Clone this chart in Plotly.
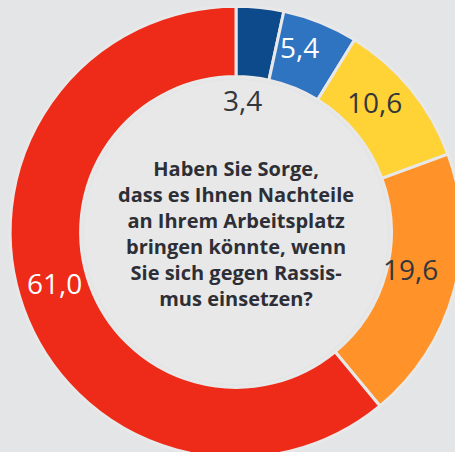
import math
import plotly.graph_objects as go

# ── Data ──────────────────────────────────────────────
labels = ["Ja, große Sorge", "Ja, etwas Sorge", "Eher nicht", "Nein, kaum", "Nein, gar nicht"]
values = [3.4, 5.4, 10.6, 19.6, 61.0]
colors = ["#0c4a8c", "#2f74c0", "#ffd236", "#ff932a", "#ee2a18"]
text_colors = ["#33373c", "#ffffff", "#33373c", "#33373c", "#ffffff"]
question = ("Haben Sie Sorge,<br>dass es Ihnen Nachteile<br>an Ihrem Arbeitsplatz<br>"
            "bringen könnte, wenn<br>Sie sich gegen Rassis-<br>mus einsetzen?")

# the ring runs past the right/bottom edge of the visible 455x452 area,
# so the figure is drawn a bit larger and the page crops it
W, H = 475, 470
BG = "#e3e5e7"
HOLE_BG = "#e8e8e8"

# pie geometry in pixels
cx, cy, r_out = 236, 232, 221
hole = 0.688
r_in = r_out * hole
r_dom = r_out * 1.022  # plotly draws the pie slightly inside its domain box

fmt = lambda v: f"{v:.1f}".replace(".", ",")

fig = go.Figure()
fig.add_trace(go.Pie(
    labels=labels,
    values=values,
    sort=False,
    direction="clockwise",
    rotation=0,
    hole=hole,
    marker=dict(colors=colors, line=dict(color=HOLE_BG, width=3)),
    textinfo="none",
    hoverinfo="label+value",
    domain=dict(x=[(cx - r_dom) / W, (cx + r_dom) / W],
                y=[1 - (cy + r_dom) / H, 1 - (cy - r_dom) / H]),
    showlegend=False,
))

# value labels at each slice's mid angle; the tiny first slice gets its label in the hole
total = sum(values)
start = 0.0
for i, v in enumerate(values):
    mid = (start + v / 2) / total * 2 * math.pi
    start += v
    rad = r_in - 31 if i == 0 else (r_in + r_out) / 2
    fig.add_annotation(
        x=(cx + rad * math.sin(mid)) / W,
        y=1 - (cy - rad * math.cos(mid)) / H,
        xref="paper", yref="paper", showarrow=False,
        xanchor="center", yanchor="middle",
        xshift=-6, yshift=12,
        text=fmt(v),
        font=dict(family="Open Sans", size=28, color=text_colors[i]),
    )

# question in the centre
fig.add_annotation(
    x=cx / W, y=1 - 234 / H, xref="paper", yref="paper", showarrow=False,
    xanchor="center", yanchor="middle",
    text=f"<b>{question}</b>",
    align="center",
    font=dict(family="Open Sans", size=20, color="#2e2f36"),
)

# lighter disc behind the hole
fig.add_shape(
    type="circle", xref="paper", yref="paper", layer="below",
    x0=(cx - r_in) / W, x1=(cx + r_in) / W,
    y0=1 - (cy + r_in) / H, y1=1 - (cy - r_in) / H,
    fillcolor=HOLE_BG, line=dict(width=0),
)

fig.update_layout(
    width=W, height=H,
    margin=dict(l=0, r=0, t=0, b=0),
    paper_bgcolor=BG,
    plot_bgcolor=BG,
)

fig.write_html(
    "out.html", config={"displayModeBar": False},
    post_script=("document.documentElement.style.overflow='hidden';"
                 "document.body.style.overflow='hidden';"
                 "document.body.style.margin='0';"),
)
